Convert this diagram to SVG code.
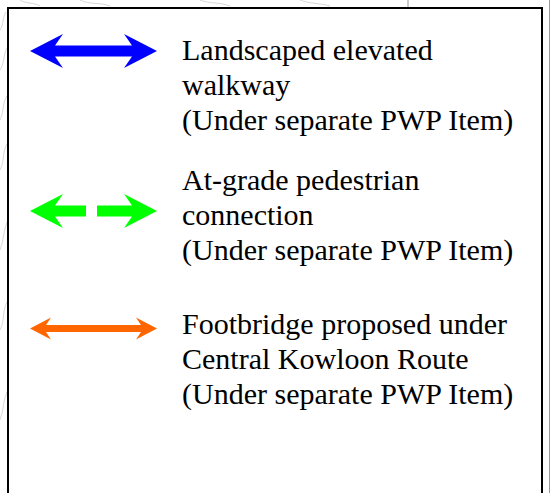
<svg xmlns="http://www.w3.org/2000/svg" width="551" height="493" viewBox="0 0 551 493">
<style>
.t{font-family:"Liberation Serif","Times New Roman",serif;font-size:30px;fill:#000}
.bg{fill:none;stroke:#d8d8d8;stroke-width:1}
</style>
<rect width="551" height="493" fill="#fff"/>
<g id="background">
<path class="bg" d="M0,30 C4,24 2,18 6,12 M0,70 C5,62 3,55 7,48 M0,120 C4,112 2,104 7,96 M0,170 C5,160 2,152 7,144 M0,250 C4,240 3,232 7,222 M0,330 C5,320 2,312 7,302 M0,420 C4,410 3,400 7,392 M20,0 C26,4 34,2 40,6 M80,0 C90,5 100,2 110,6 M200,0 C210,4 220,2 230,6 M300,0 C310,4 320,3 330,6"/>
<line x1="408" y1="0" x2="408" y2="7" stroke="#999" stroke-width="1"/>
<line x1="549.5" y1="0" x2="549.5" y2="493" stroke="#999" stroke-width="1"/>
</g>
<g id="legend-box">
<rect x="8" y="8" width="534" height="500" fill="#fff" stroke="#000" stroke-width="2"/>
</g>
<g id="connectors">
<polygon id="blue-arrow" fill="#0000ff" points="30,51 63,34 55,45.5 132,45.5 124,34 157,51 124,68 132,56.5 55,56.5 63,68"/>
<g id="green-arrow" fill="#00ff00">
<polygon points="30,211 63,194 55,205.5 86,205.5 86,216.5 55,216.5 63,228"/>
<polygon points="157,211 124,194 132,205.5 97,205.5 97,216.5 132,216.5 124,228"/>
</g>
<polygon id="orange-arrow" fill="#ff6600" points="30,328.5 51,317.5 46,325 141,325 136,317.5 157,328.5 136,339.5 141,332 46,332 51,339.5"/>
</g>
<g id="item-walkway">
<text class="t" x="182" y="60">Landscaped elevated</text>
<text class="t" x="182" y="95">walkway</text>
<text class="t" x="182" y="130">(Under separate PWP Item)</text>
</g>
<g id="item-atgrade">
<text class="t" x="182" y="190">At-grade pedestrian</text>
<text class="t" x="182" y="225">connection</text>
<text class="t" x="182" y="260">(Under separate PWP Item)</text>
</g>
<g id="item-footbridge">
<text class="t" x="182" y="334">Footbridge proposed under</text>
<text class="t" x="182" y="369">Central Kowloon Route</text>
<text class="t" x="182" y="404">(Under separate PWP Item)</text>
</g>
</svg>
